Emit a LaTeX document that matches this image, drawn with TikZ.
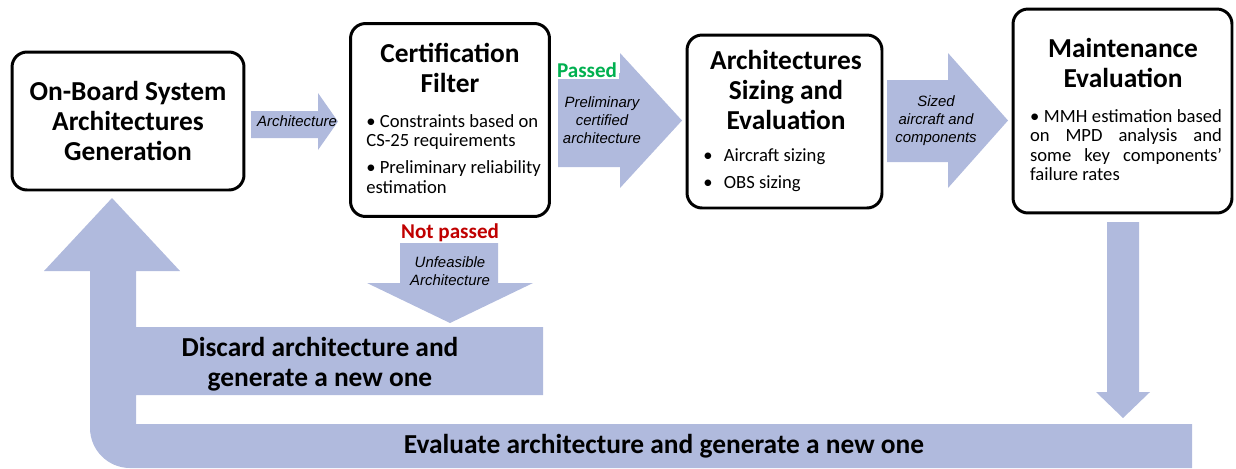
\documentclass[tikz,border=0pt]{standalone}
\usepackage{fontspec}
\setmainfont{Carlito}
\newfontfamily\arialfont{Liberation Sans}
\usetikzlibrary{positioning}
\definecolor{flowblue}{RGB}{176,186,221}
\definecolor{passgreen}{RGB}{0,176,80}
\definecolor{failred}{RGB}{192,0,0}
\tikzset{%
	box/.style     = {draw, rectangle, rounded corners=0.3cm, line width=1.7pt, inner sep=0pt},
	title/.style   = {align=center, font=\fontsize{15.6}{17}\selectfont\bfseries, inner sep=0pt},
	bullets/.style = {align=left, font=\fontsize{10.6}{11.3}\selectfont, inner sep=0pt},
	note/.style    = {align=center, font=\arialfont\itshape\fontsize{8.5}{10.2}\selectfont, inner sep=0pt},
	flow/.style    = {fill=flowblue, draw=none}, % block arrows
	verdict/.style = {font=\fontsize{12}{14}\selectfont\bfseries, inner sep=1pt},
}

\begin{document}
\begin{tikzpicture}[x=0.02cm,y=-0.02cm]
		\useasboundingbox (0,0) rectangle (1236,468);
		
		% block arrows
		\fill[flow] (251,111) -- (318,111) -- (318,93) -- (338,121.5) -- (318,150) -- (318,138) -- (251,138) -- cycle;
		\fill[flow] (558,73) -- (620,73) -- (620,53) -- (682,120.5) -- (620,188) -- (620,167) -- (558,167) -- cycle;
		\fill[flow] (887,80) -- (948,80) -- (948,53) -- (1008,120.5) -- (948,188) -- (948,162) -- (887,162) -- cycle;
		\fill[flow] (400,243) -- (498,243) -- (498,283) -- (533,283) -- (450,323) -- (367,283) -- (400,283) -- cycle;
		\fill[flow] (1107,222) -- (1139,222) -- (1139,392) -- (1150,392) -- (1123,418) -- (1096,392) -- (1107,392) -- cycle;
		\fill[flow] (112,198) -- (180,271) -- (136,271) -- (136,327) -- (543,327) -- (543,395) -- (136,395) -- (136,424)
			-- (1192,424) -- (1192,468) -- (130,468) .. controls (108,468) and (90,450) .. (90,428) -- (90,271) -- (44,271) -- cycle;
		
		% boxes
		\node [box, title, minimum width=4.64cm, minimum height=2.76cm] (gen) at (128,121) {On-Board System\\Architectures\\Generation};
		\node [box, minimum width=3.98cm, minimum height=3.86cm] (cert) at (450,120) {};
		\node [title] (certtitle) at (450,68) {Certification\\Filter};
		\node [bullets, anchor=west] (certlist) at (366,154) {\textbullet\ Constraints based on\\CS-25 requirements\\[4pt]\textbullet\ Preliminary reliability\\estimation};
		\node [box, minimum width=3.9cm, minimum height=3.46cm] (sizing) at (784.5,121.5) {};
		\node [title] (sizingtitle) at (786,90) {Architectures\\Sizing and\\Evaluation};
		\node [bullets, anchor=west] (sizinglist) at (703,170.5) {\textbullet\hspace{0.6em}Aircraft sizing\\[4pt]\textbullet\hspace{0.6em}OBS sizing};
		\node [box, minimum width=4.38cm, minimum height=4.08cm] (maint) at (1122.5,111) {};
		\node [title] (mainttitle) at (1123,63) {Maintenance\\Evaluation};
		\node [bullets] (maintlist) at (1126,145) {\parbox{3.84cm}{\fontsize{10.6}{11}\selectfont\emergencystretch=2em
			\textbullet\ MMH estimation based\linebreak on MPD analysis and\linebreak some key components'\linebreak failure rates}};
		
		% labels on the arrows
		\node [note] (archlbl) at (297,121) {Architecture};
		\node [note] (prelbl) at (602,120) {Preliminary\\certified\\architecture};
		\node [note] (sizedlbl) at (936,121) {Sized\\aircraft and\\components};
		\node [note] (unfeaslbl) at (450,271) {Unfeasible\\Architecture};
		\node [verdict, text=passgreen, fill=white] (passed) at (587,70) {Passed};
		\node [verdict, text=failred] (notpassed) at (450,233) {Not passed};
		\node [title] (discard) at (320,364) {Discard architecture and\\generate a new one};
		\node [title] (evaluate) at (664,446) {Evaluate architecture and generate a new one};
	\end{tikzpicture}
\end{document}
